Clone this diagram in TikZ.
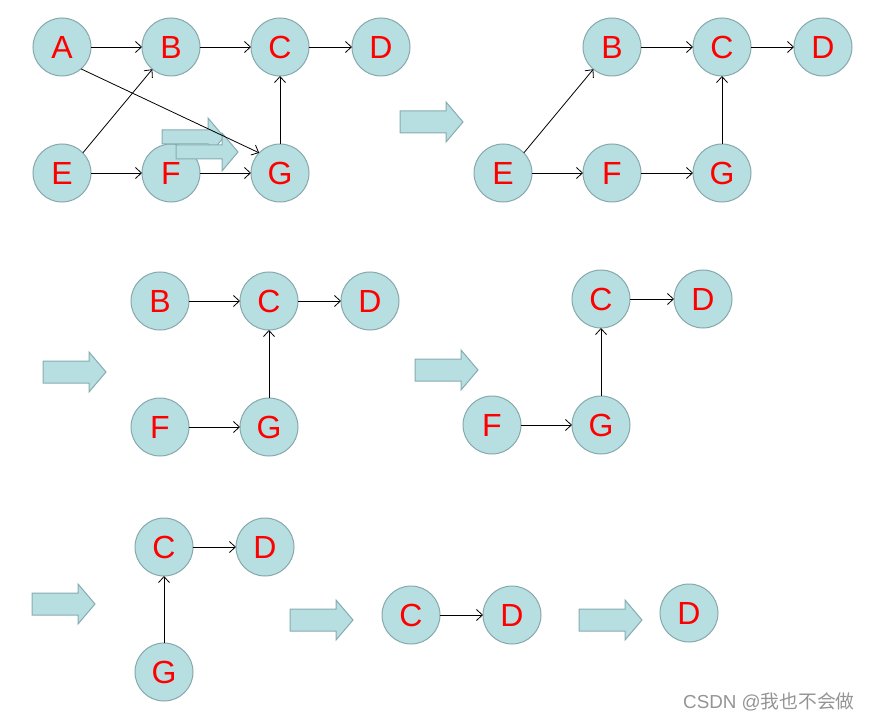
\documentclass[tikz,border=0pt]{standalone}
\usepackage{fontspec}
\setmainfont{Liberation Sans}
\newfontfamily\cjk{Noto Sans CJK SC}
\usetikzlibrary{arrows.meta}
\definecolor{nodefill}{HTML}{B7DEE1}
\definecolor{nodeline}{HTML}{86A8AB}
\definecolor{arrfill}{HTML}{B7DEE1}
\definecolor{arrline}{HTML}{86ACAF}
\tikzset{
  vtx/.style={circle,fill=nodefill,draw=nodeline,line width=1pt,minimum size=58pt,inner sep=0pt,outer sep=0pt,text=red,font=\fontsize{32}{32}\selectfont},
  edge/.style={draw=black,line width=0.8pt,-{Straight Barb[length=6pt,width=11pt,line width=0.8pt]}},
  pics/blockarrow/.style={code={
    \draw[fill=arrfill,draw=arrline,line width=1pt]
      (0,-11) -- (46,-11) -- (46,-20) -- (63,0) -- (46,20) -- (46,11) -- (0,11) -- cycle;}},
  pics/smallarrow/.style={code={
    \draw[fill=arrfill,draw=arrline,line width=1pt]
      (0,-7) -- (46,-7) -- (46,-19) -- (62,0) -- (46,19) -- (46,7) -- (0,7) -- cycle;}}
}
\begin{document}
\begin{tikzpicture}[x=1pt,y=-1pt]
\useasboundingbox (0,0) rectangle (870,722);
% group 1
\node[vtx] (a1) at (62,47) {A};
\node[vtx] (b1) at (171,47) {B};
\node[vtx] (c1) at (280,47) {C};
\node[vtx] (d1) at (381,47) {D};
\node[vtx] (e1) at (62,173) {E};
\node[vtx] (f1) at (171,173) {F};
\node[vtx] (g1) at (280,173) {G};
\draw[edge] (a1) -- (b1);
\draw[edge] (b1) -- (c1);
\draw[edge] (c1) -- (d1);
\draw[edge] (e1) -- (f1);
\draw[edge] (e1.44) -- (b1.-130);
\draw[edge] (g1) -- (c1);
\pic at (162,137) {smallarrow};
\pic at (176,152) {smallarrow};
\draw[edge] (a1.-49) -- (g1.136);
\draw[edge] (f1) -- (g1);
% arrow 1
\pic at (400,122) {blockarrow};
% group 2
\node[vtx] (b2) at (612,47) {B};
\node[vtx] (c2) at (722,47) {C};
\node[vtx] (d2) at (823,47) {D};
\node[vtx] (e2) at (503,173) {E};
\node[vtx] (f2) at (612,173) {F};
\node[vtx] (g2) at (722,173) {G};
\draw[edge] (b2) -- (c2);
\draw[edge] (c2) -- (d2);
\draw[edge] (e2) -- (f2);
\draw[edge] (f2) -- (g2);
\draw[edge] (g2) -- (c2);
\draw[edge] (e2.44) -- (b2.-130);
% group 3
\pic at (43,372) {blockarrow};
\node[vtx] (b3) at (160,301) {B};
\node[vtx] (c3) at (269,301) {C};
\node[vtx] (d3) at (370,301) {D};
\node[vtx] (f3) at (160,427) {F};
\node[vtx] (g3) at (269,427) {G};
\draw[edge] (b3) -- (c3);
\draw[edge] (c3) -- (d3);
\draw[edge] (f3) -- (g3);
\draw[edge] (g3) -- (c3);
% group 4
\pic at (415,370) {blockarrow};
\node[vtx] (c4) at (601,299) {C};
\node[vtx] (d4) at (703,299) {D};
\node[vtx] (f4) at (492,425) {F};
\node[vtx] (g4) at (601,425) {G};
\draw[edge] (c4) -- (d4);
\draw[edge] (f4) -- (g4);
\draw[edge] (g4) -- (c4);
% group 5
\pic at (32,604) {blockarrow};
\node[vtx] (c5) at (164,547) {C};
\node[vtx] (d5) at (265,547) {D};
\node[vtx] (g5) at (164,672) {G};
\draw[edge] (c5) -- (d5);
\draw[edge] (g5) -- (c5);
% group 6
\pic at (290,620) {blockarrow};
\node[vtx] (c6) at (411,615) {C};
\node[vtx] (d6) at (512,615) {D};
\draw[edge] (c6) -- (d6);
% group 7
\pic at (579,620) {blockarrow};
\node[vtx] (d7) at (689,613) {D};
% watermark
\node[anchor=west,text=black!42,font=\fontsize{18.8}{18.8}\selectfont,inner sep=0pt] (wm) at (683,702) {CSDN @{\cjk 我也不会做}};
\end{tikzpicture}
\end{document}
